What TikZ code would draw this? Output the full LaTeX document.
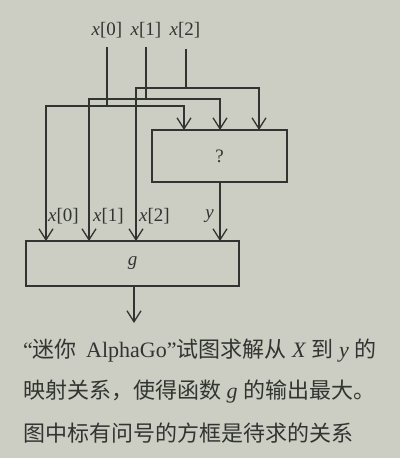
\documentclass[tikz,border=0pt]{standalone}
\usepackage{fontspec}
\setmainfont{Liberation Serif}
\newfontfamily\cjk{Noto Sans CJK SC}
\usetikzlibrary{arrows.meta}
\definecolor{bg}{RGB}{204,206,195}
\definecolor{ink}{RGB}{50,52,50}
\begin{document}
\begin{tikzpicture}[x=1pt,y=-1pt,
  wire/.style={draw=ink,line width=1.3pt},
  arr/.style={wire,-{Straight Barb[length=11pt,width=14pt,line width=1.3pt]}},
  box/.style={draw=ink,line width=1.3pt,inner sep=0pt},
  lab/.style={text=ink,font=\fontsize{19}{22}\selectfont,inner sep=0pt},
  captext/.style={text=ink,font=\fontsize{22}{25}\selectfont,inner sep=0pt,anchor=west}]
\fill[bg] (0,0) rectangle (400,458);
\useasboundingbox (0,0) rectangle (400,458);
% boxes
\node[box,minimum width=135pt,minimum height=52pt] (q) at (219.5,156) {};
\node[lab] at (q.center) {?};
\node[box,minimum width=213pt,minimum height=45pt] (g) at (132.5,263.5) {};
\node[lab] at (g.center) {\textit{g}};
% top inputs
\node[lab] (i0) at (107,30) {\textit{x}[0]};
\node[lab] (i1) at (146,30) {\textit{x}[1]};
\node[lab] (i2) at (185,30) {\textit{x}[2]};
\coordinate (s0) at (107,47);
\coordinate (s1) at (146,47);
\coordinate (s2) at (186,49);
\coordinate (j0) at (107,106);
\coordinate (j1) at (146,99);
\coordinate (j2) at (186,88);
% x[2]
\draw[wire] (s2) -- (j2);
\draw[arr] (j2) -- (136,88) -- (136,241);
\draw[arr] (j2) -- (259,88) -- (259,130);
% x[1]
\draw[wire] (s1) -- (j1);
\draw[arr] (j1) -- (89,99) -- (89,241);
\draw[arr] (j1) -- (220,99) -- (220,130);
% x[0]
\draw[wire] (s0) -- (j0);
\draw[arr] (j0) -- (46,106) -- (46,241);
\draw[arr] (j0) -- (184,106) -- (184,130);
% y
\draw[arr] (q.south -| 220,0) -- (220,241);
% output
\coordinate (out) at (134,323);
\draw[arr] (g.south -| out) -- (out);
% middle labels
\node[lab,anchor=west] at (48,216) {\textit{x}[0]};
\node[lab,anchor=west] at (93,216) {\textit{x}[1]};
\node[lab,anchor=west] at (139,216) {\textit{x}[2]};
\node[lab,anchor=east] at (214,216) {\textit{y}};
% caption
\node[captext] at (23,351) {“{\cjk 迷你}\, AlphaGo”{\cjk 试图求解从} \textit{X} {\cjk 到} \textit{y} {\cjk 的}};
\node[captext] at (23,392) {{\cjk 映射关系，使得函数} \textit{g} {\cjk 的输出最大。}};
\node[captext] at (23,433) {{\cjk 图中标有问号的方框是待求的关系}};
\end{tikzpicture}
\end{document}
